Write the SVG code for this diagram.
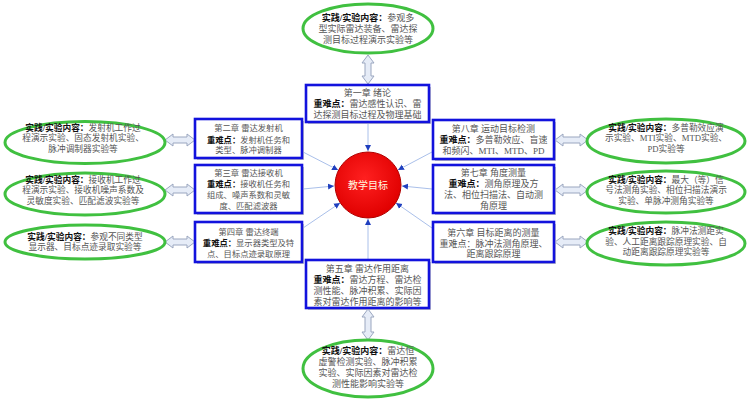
<svg xmlns="http://www.w3.org/2000/svg" width="749" height="404" viewBox="0 0 749 404">
<style>
text{font-family:"Liberation Serif","Noto Sans CJK SC",serif;fill:#555;text-anchor:middle}
.e{font-size:9px}
.es{font-size:8.7px}
.b{font-size:9px}
.bl{font-size:8.3px}
.k{fill:#111;font-weight:bold}
.ell{fill:#fff;stroke:#40c040;stroke-width:3}
.box{fill:#fff;stroke:#1212dd;stroke-width:2.6}
.sh{fill:#c8c8c8}
.dar{fill:#e6ecf7;stroke:#9aa6bf;stroke-width:1}
.con{stroke:#aac0ea;stroke-width:1;fill:none;marker-end:url(#ah)}
</style>
<defs>
<marker id="ah" markerWidth="7" markerHeight="7" refX="6" refY="3.5" orient="auto" markerUnits="userSpaceOnUse">
<path d="M0,0.5 L6,3.5 L0,6.5 Z" fill="#1f3fbf"/>
</marker>
<radialGradient id="rg" cx="0.45" cy="0.4" r="0.6">
<stop offset="0" stop-color="#ff2020"/>
<stop offset="1" stop-color="#e00000"/>
</radialGradient>
</defs>
<rect width="749" height="404" fill="#fff"/>
<g id="connectors">
<line class="con" x1="368" y1="123" x2="368" y2="151"/>
<line class="con" x1="368" y1="259" x2="368" y2="219"/>
<line class="con" x1="303" y1="189" x2="334" y2="186"/>
<line class="con" x1="432" y1="189" x2="402" y2="186"/>
<line class="con" x1="303" y1="152" x2="338" y2="170"/>
<line class="con" x1="303" y1="228" x2="340" y2="203"/>
<line class="con" x1="432" y1="152" x2="398" y2="170"/>
<line class="con" x1="432" y1="228" x2="396" y2="203"/>
<path class="dar" d="M165,140 L173,134 L173,137 L187,137 L187,134 L195,140 L187,146 L187,143 L173,143 L173,146 Z"/>
<path class="dar" d="M165,190 L173,184 L173,187 L187,187 L187,184 L195,190 L187,196 L187,193 L173,193 L173,196 Z"/>
<path class="dar" d="M165,242 L173,236 L173,239 L187,239 L187,236 L195,242 L187,248 L187,245 L173,245 L173,248 Z"/>
<path class="dar" d="M555,140 L563,134 L563,137 L580,137 L580,134 L588,140 L580,146 L580,143 L563,143 L563,146 Z"/>
<path class="dar" d="M555,190 L563,184 L563,187 L580,187 L580,184 L588,190 L580,196 L580,193 L563,193 L563,196 Z"/>
<path class="dar" d="M555,242 L563,236 L563,239 L580,239 L580,236 L588,242 L580,248 L580,245 L563,245 L563,248 Z"/>
<path class="dar" d="M368,55 L374,63 L371,63 L371,76 L374,76 L368,84 L362,76 L365,76 L365,63 L362,63 Z"/>
<path class="dar" d="M368,309 L374,317 L371,317 L371,332 L374,332 L368,340 L362,332 L365,332 L365,317 L362,317 Z"/>
</g>
<g id="center">
<circle cx="368" cy="185" r="33" fill="url(#rg)" stroke="#b00000" stroke-width="1"/>
<text x="368" y="189" style="font-size:10px;fill:#fff8e0">教学目标</text>
</g>
<g id="ch1">
<rect class="sh" x="308" y="87" width="123" height="37"/>
<rect class="box" x="306" y="85" width="123" height="37"/>
<text class="b" x="367.5" y="96">第一章 绪论</text>
<text class="b" x="367.5" y="107"><tspan class="k">重难点：</tspan>雷达感性认识、雷</text>
<text class="b" x="367.5" y="118">达探测目标过程及物理基础</text>
</g>
<g id="ch2">
<rect class="sh" x="197" y="121" width="107" height="39"/>
<rect class="box" x="195" y="119" width="107" height="39"/>
<text class="bl" x="248.5" y="131">第二章 雷达发射机</text>
<text class="bl" x="248.5" y="142.5"><tspan class="k">重难点：</tspan>发射机任务和</text>
<text class="bl" x="248.5" y="153">类型、脉冲调制器</text>
</g>
<g id="ch3">
<rect class="sh" x="197" y="167" width="107" height="48"/>
<rect class="box" x="195" y="165" width="107" height="48"/>
<text class="bl" x="248.5" y="176">第三章 雷达接收机</text>
<text class="bl" x="248.5" y="187"><tspan class="k">重难点：</tspan>接收机任务和</text>
<text class="bl" x="248.5" y="197.5">组成、噪声系数和灵敏</text>
<text class="bl" x="248.5" y="208.5">度、匹配滤波器</text>
</g>
<g id="ch4">
<rect class="sh" x="197" y="224" width="107" height="40"/>
<rect class="box" x="195" y="222" width="107" height="40"/>
<text class="bl" x="248.5" y="235">第四章 雷达终端</text>
<text class="bl" x="248.5" y="246"><tspan class="k">重难点：</tspan>显示器类型及特</text>
<text class="bl" x="248.5" y="256.5">点、目标点迹录取原理</text>
</g>
<g id="ch5">
<rect class="sh" x="308" y="262" width="123" height="48"/>
<rect class="box" x="306" y="260" width="123" height="48"/>
<text class="b" x="367.5" y="271.5">第五章 雷达作用距离</text>
<text class="b" x="367.5" y="282.5"><tspan class="k">重难点：</tspan>雷达方程、雷达检</text>
<text class="b" x="367.5" y="293.5">测性能、脉冲积累、实际因</text>
<text class="b" x="367.5" y="305">素对雷达作用距离的影响等</text>
</g>
<g id="ch8">
<rect class="sh" x="435" y="122" width="121" height="39"/>
<rect class="box" x="433" y="120" width="121" height="39"/>
<text class="b" x="493.5" y="131.5">第八章 运动目标检测</text>
<text class="b" x="493.5" y="142.5"><tspan class="k">重难点：</tspan>多普勒效应、盲速</text>
<text class="b" x="493.5" y="153.5">和频闪、MTI、MTD、PD</text>
</g>
<g id="ch7">
<rect class="sh" x="435" y="167" width="121" height="48"/>
<rect class="box" x="433" y="165" width="121" height="48"/>
<text class="b" x="493.5" y="176">第七章 角度测量</text>
<text class="b" x="493.5" y="187"><tspan class="k">重难点：</tspan>测角原理及方</text>
<text class="b" x="493.5" y="197.5">法、相位扫描法、自动测</text>
<text class="b" x="493.5" y="208.5">角原理</text>
</g>
<g id="ch6">
<rect class="sh" x="435" y="224" width="121" height="40"/>
<rect class="box" x="433" y="222" width="121" height="40"/>
<text class="b" x="493.5" y="235.5">第六章 目标距离的测量</text>
<text class="b" x="493.5" y="246.5">重难点：脉冲法测角原理、</text>
<text class="b" x="493.5" y="257">距离跟踪原理</text>
</g>
<g id="exp-top">
<ellipse class="ell" cx="368" cy="28.5" rx="65" ry="24.5"/>
<text class="e" x="368" y="20.5"><tspan class="k">实践/实验内容：</tspan>参观多</text>
<text class="e" x="368" y="31.5">型实际雷达装备、雷达探</text>
<text class="e" x="368" y="43">测目标过程演示实验等</text>
</g>
<g id="exp-l1">
<ellipse class="ell" cx="85" cy="142.5" rx="80" ry="21"/>
<text class="es" x="83" y="130.5"><tspan class="k">实践/实验内容：</tspan>发射机工作过</text>
<text class="es" x="83" y="141">程演示实验、固态发射机实验、</text>
<text class="es" x="83" y="151.5">脉冲调制器实验等</text>
</g>
<g id="exp-l2">
<ellipse class="ell" cx="85" cy="194" rx="80" ry="21"/>
<text class="es" x="83" y="182.5"><tspan class="k">实践/实验内容：</tspan>接收机工作过</text>
<text class="es" x="83" y="193">程演示实验、接收机噪声系数及</text>
<text class="es" x="83" y="203.5">灵敏度实验、匹配滤波实验等</text>
</g>
<g id="exp-l3">
<ellipse class="ell" cx="85" cy="242" rx="80" ry="17"/>
<text class="es" x="85" y="239.5"><tspan class="k">实践/实验内容：</tspan>参观不同类型</text>
<text class="es" x="85" y="250">显示器、目标点迹录取实验等</text>
</g>
<g id="exp-r1">
<ellipse class="ell" cx="666" cy="141" rx="79" ry="22"/>
<text class="es" x="666" y="130.5"><tspan class="k">实践/实验内容：</tspan>多普勒效应演</text>
<text class="es" x="666" y="141">示实验、MTI实验、MTD实验、</text>
<text class="es" x="666" y="151.5">PD实验等</text>
</g>
<g id="exp-r2">
<ellipse class="ell" cx="666" cy="192" rx="79" ry="21"/>
<text class="es" x="666" y="182.5"><tspan class="k">实践/实验内容：</tspan>最大（等）信</text>
<text class="es" x="666" y="193">号法测角实验、相位扫描法演示</text>
<text class="es" x="666" y="203.5">实验、单脉冲测角实验等</text>
</g>
<g id="exp-r3">
<ellipse class="ell" cx="666" cy="243.5" rx="79" ry="21.5"/>
<text class="es" x="666" y="233.5"><tspan class="k">实践/实验内容：</tspan>脉冲法测距实</text>
<text class="es" x="666" y="244.5">验、人工距离跟踪原理实验、自</text>
<text class="es" x="666" y="255">动距离跟踪原理实验等</text>
</g>
<g id="exp-bottom">
<ellipse class="ell" cx="368" cy="368.5" rx="65" ry="28.5"/>
<text class="e" x="368" y="353.5"><tspan class="k">实践/实验内容：</tspan>雷达恒</text>
<text class="e" x="368" y="364.5">虚警检测实验、脉冲积累</text>
<text class="e" x="368" y="375.5">实验、实际因素对雷达检</text>
<text class="e" x="368" y="386.5">测性能影响实验等</text>
</g>
</svg>
